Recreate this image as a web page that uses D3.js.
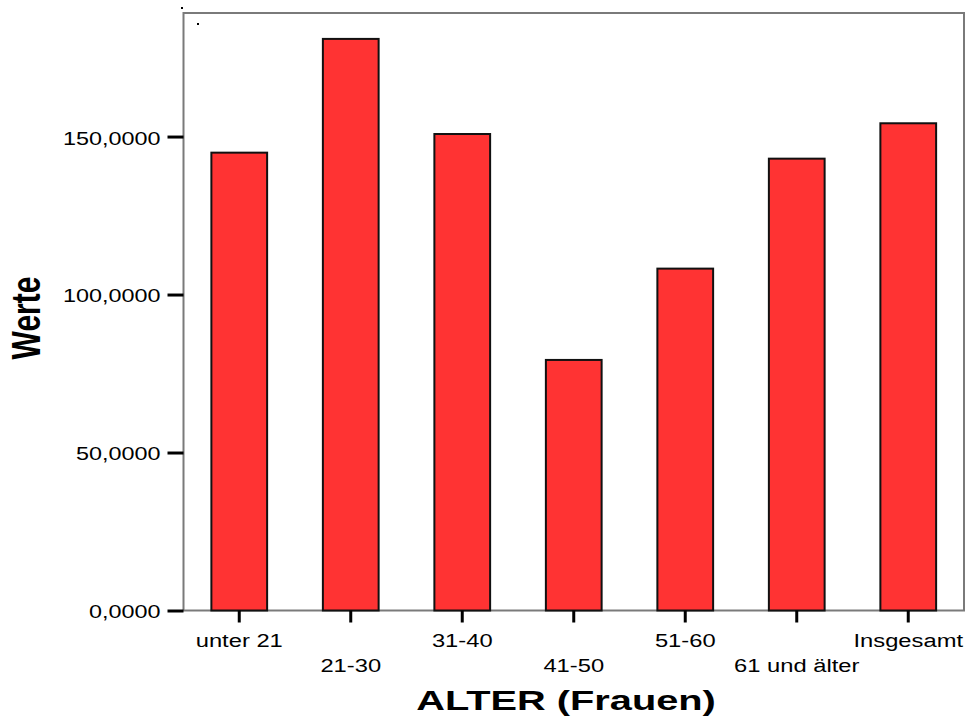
<!DOCTYPE html>
<html>
<head>
<meta charset="utf-8">
<script src="https://cdn.jsdelivr.net/npm/d3@7"></script>
<style>
  html, body { margin: 0; padding: 0; background: #fff; }
  svg { display: block; }
  text { font-family: "Liberation Sans", Arial, sans-serif; fill: #000; }
</style>
</head>
<body>
<svg id="chart" width="967" height="720"></svg>
<script>
const categories = ["unter 21", "21-30", "31-40", "41-50", "51-60", "61 und älter", "Insgesamt"];
const values = [144.9, 180.9, 150.8, 79.3, 108.2, 143.0, 154.2];
const yTicks = [0, 50, 100, 150];
const yMax = 189.1;
const xTitle = "ALTER (Frauen)";
const yTitle = "Werte";

const svg = d3.select("#chart");
const pLeft = 183.5, pRight = 964, pTop = 13, pBottom = 610.5;

const x = d3.scaleBand().domain(categories).range([pLeft, pRight]).paddingInner(0.5).paddingOuter(0.25);
const y = d3.scaleLinear().domain([0, yMax]).range([pBottom, pTop]);

const fmt = v => d3.format(".4f")(v).replace(".", ",");

// frame
svg.append("rect")
  .attr("x", pLeft).attr("y", pTop)
  .attr("width", pRight - pLeft).attr("height", pBottom - pTop)
  .attr("fill", "#fff").attr("stroke", "#7a7a7a").attr("stroke-width", 2);

// bars
svg.append("g").selectAll("rect").data(values).join("rect")
  .attr("x", (d, i) => x(categories[i]))
  .attr("width", x.bandwidth())
  .attr("y", d => y(d))
  .attr("height", d => y(0) - y(d))
  .attr("fill", "#ff3333")
  .attr("stroke", "#111")
  .attr("stroke-width", 2);

// y axis
const yAxis = svg.append("g").attr("transform", `translate(${pLeft},0)`)
  .call(d3.axisLeft(y).tickValues(yTicks).tickSize(16).tickFormat(fmt));
yAxis.select(".domain").remove();
yAxis.selectAll(".tick line").attr("stroke", "#000").attr("stroke-width", 3);
yAxis.selectAll(".tick text").each(function() {
  const t = d3.select(this);
  t.attr("font-size", 18).attr("fill", "#000")
   .attr("x", null).attr("dy", null)
   .attr("dominant-baseline", "central")
   .attr("text-anchor", "end")
   .attr("transform", "translate(-23,1) scale(1.3,1)");
});

// x axis
const xAxis = svg.append("g").attr("transform", `translate(0,${pBottom})`)
  .call(d3.axisBottom(x).tickSize(12).tickFormat(""));
xAxis.select(".domain").remove();
xAxis.selectAll(".tick line").attr("stroke", "#000").attr("stroke-width", 3);

svg.append("g").selectAll("text").data(categories).join("text")
  .attr("font-size", 18)
  .attr("text-anchor", "middle")
  .attr("transform", (d, i) => `translate(${x(d) + x.bandwidth() / 2},${i % 2 === 0 ? 646.5 : 671.5}) scale(1.32,1)`)
  .text(d => d);

// axis titles
svg.append("text")
  .attr("font-size", 28).attr("font-weight", "bold")
  .attr("text-anchor", "middle")
  .attr("transform", "translate(566,710) scale(1.42,1)")
  .text(xTitle);

svg.append("text")
  .attr("font-size", 30).attr("font-weight", "bold")
  .attr("text-anchor", "middle")
  .attr("transform", "translate(40,318) scale(1.33,1) rotate(-90)")
  .text(yTitle);

// small stray dots from the original
svg.append("rect").attr("x", 181).attr("y", 7).attr("width", 2).attr("height", 2).attr("fill", "#000");
svg.append("rect").attr("x", 197).attr("y", 23).attr("width", 2).attr("height", 2).attr("fill", "#000");
</script>
</body>
</html>
